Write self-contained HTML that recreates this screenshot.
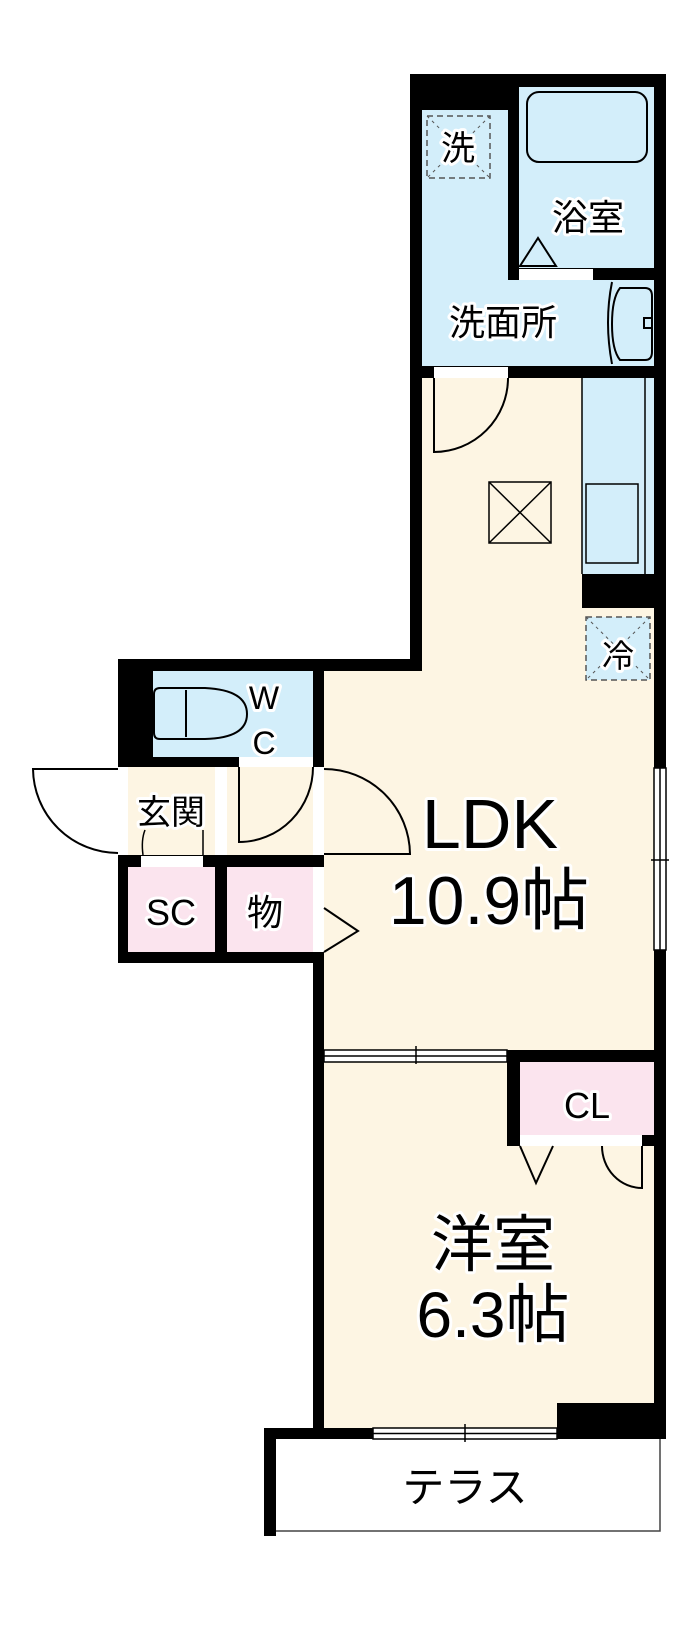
<!DOCTYPE html>
<html><head><meta charset="utf-8"><style>
html,body{margin:0;padding:0;background:#fff;}
svg{display:block;}
text{font-family:"Liberation Sans","Noto Sans CJK JP",sans-serif;fill:#000;text-anchor:middle;paint-order:stroke;stroke:#fff;stroke-width:6px;stroke-linejoin:round;}
</style></head><body>
<svg width="700" height="1625" viewBox="0 0 700 1625" xmlns="http://www.w3.org/2000/svg">
<!-- floors -->
<rect x="422" y="87" width="232" height="281" fill="#d3eefa"/>
<rect x="422" y="378" width="232" height="680" fill="#fdf5e3"/>
<rect x="313" y="660" width="120" height="400" fill="#fdf5e3"/>
<rect x="324" y="1062" width="330" height="366" fill="#fdf5e3"/>
<rect x="153" y="671" width="160" height="86" fill="#d3eefa"/>
<rect x="128" y="767" width="185" height="88" fill="#fdf5e3"/>
<rect x="128" y="867" width="87" height="85" fill="#fbe4ee"/>
<rect x="227" y="867" width="86" height="85" fill="#fbe4ee"/>
<rect x="520" y="1062" width="134" height="73" fill="#fbe4ee"/>
<rect x="582" y="378" width="72" height="196" fill="#d3eefa"/>
<rect x="586" y="617" width="64" height="63" fill="#d3eefa"/>

<!-- walls -->
<g fill="#000">
<rect x="410" y="74" width="256" height="13"/>
<rect x="410" y="74" width="98" height="36"/>
<rect x="410" y="74" width="12" height="597"/>
<rect x="508" y="74" width="11" height="206"/>
<rect x="508" y="268" width="158" height="12"/>
<rect x="654" y="74" width="12" height="694"/>
<rect x="654" y="950" width="12" height="489"/>
<rect x="410" y="366" width="256" height="12"/>
<rect x="582" y="574" width="84" height="34"/>
<rect x="118" y="659" width="304" height="12"/>
<rect x="118" y="659" width="35" height="108"/>
<rect x="313" y="659" width="11" height="108"/>
<rect x="153" y="757" width="86" height="10"/>
<rect x="118" y="855" width="206" height="12"/>
<rect x="118" y="855" width="10" height="108"/>
<rect x="215" y="855" width="12" height="108"/>
<rect x="118" y="952" width="206" height="11"/>
<rect x="313" y="952" width="11" height="476"/>
<rect x="507" y="1050" width="159" height="12"/>
<rect x="507" y="1050" width="13" height="96"/>
<rect x="642" y="1135" width="24" height="11"/>
<rect x="557" y="1403" width="109" height="36"/>
<rect x="264" y="1428" width="109" height="11"/>
<rect x="264" y="1428" width="12" height="108"/>
</g>

<!-- white openings -->
<g fill="#fff" stroke="#000" stroke-width="1">
<rect x="519" y="269" width="74" height="11" stroke="none"/>
<rect x="434" y="367" width="74" height="11" stroke="none"/>
<rect x="239" y="758" width="74" height="9" stroke="none"/>
<rect x="141" y="856" width="62" height="11" stroke="none"/>
<rect x="118" y="767" width="10" height="88" stroke="none"/>
<rect x="215" y="767" width="12" height="88" stroke="none"/>
<rect x="313" y="767" width="11" height="88" stroke="none"/>
<rect x="313" y="867" width="11" height="85" stroke="none"/>
<rect x="520" y="1135" width="122" height="11" stroke="none"/>
</g>

<!-- windows / sliding doors -->
<g fill="#fff" stroke="#000" stroke-width="1.5">
<rect x="654" y="768" width="12" height="182"/>
<line x1="660" y1="768" x2="660" y2="950"/>
<line x1="651" y1="860" x2="669" y2="860"/>
<rect x="324" y="1050" width="183" height="12"/>
<line x1="324" y1="1056" x2="507" y2="1056"/>
<line x1="416" y1="1046" x2="416" y2="1064"/>
<rect x="373" y="1428" width="184" height="11"/>
<line x1="373" y1="1433.5" x2="557" y2="1433.5"/>
<line x1="465" y1="1424" x2="465" y2="1442"/>
</g>

<!-- terrace -->
<g fill="none" stroke="#444" stroke-width="1.5">
<polyline points="276,1531 660,1531 660,1439"/>
</g>

<!-- fixtures -->
<g fill="none" stroke="#000" stroke-width="2">
<rect x="527" y="92" width="120" height="70" rx="12" fill="#d3eefa"/>
<polygon points="520,266 556,266 538,238"/>
<path d="M612,282 Q604,322 612,364"/>
<path d="M620,288 L645,288 Q652,288 652,296 L652,352 Q652,360 645,360 L620,360 Q612,350 612,324 Q612,298 620,288 Z"/>
<rect x="644" y="318" width="8" height="10"/>
<path d="M434,378 L434,452 A74,74 0 0 0 508,378"/>
<rect x="489" y="482" width="62" height="61" stroke-width="1.5"/>
<line x1="489" y1="482" x2="551" y2="543" stroke-width="1.5"/>
<line x1="551" y1="482" x2="489" y2="543" stroke-width="1.5"/>
<line x1="645" y1="378" x2="645" y2="574" stroke-width="1.5"/>
<line x1="582" y1="378" x2="582" y2="574" stroke-width="1.5"/>
<rect x="586" y="484" width="52" height="79" stroke-width="1.5"/>
<rect x="427" y="116" width="63" height="62" stroke="#555" stroke-dasharray="6,4" stroke-width="1.5"/>
<line x1="427" y1="116" x2="490" y2="178" stroke="#555" stroke-dasharray="3,4" stroke-width="1"/>
<line x1="490" y1="116" x2="427" y2="178" stroke="#555" stroke-dasharray="3,4" stroke-width="1"/>
<rect x="586" y="617" width="64" height="63" stroke="#555" stroke-dasharray="6,4" stroke-width="1.5"/>
<line x1="586" y1="617" x2="650" y2="680" stroke="#555" stroke-dasharray="3,4" stroke-width="1"/>
<line x1="650" y1="617" x2="586" y2="680" stroke="#555" stroke-dasharray="3,4" stroke-width="1"/>
<!-- toilet -->
<path d="M160,688 L205,688 Q247,690 247,714 Q247,738 205,739 L160,739 Q154,739 154,733 L154,694 Q154,688 160,688 Z"/>
<line x1="186" y1="690" x2="186" y2="737"/>
<!-- doors -->
<path d="M118,769 L33,769 A85,85 0 0 0 118,853"/>
<path d="M239,767 L239,842 A74,75 0 0 0 313,767"/>
<path d="M324,769 A86,86 0 0 1 410,854 L324,854"/>
<path d="M143,855 Q141,840 145,830" stroke-width="1.5"/>
<line x1="203" y1="855" x2="203" y2="830" stroke-width="1.5"/>
<polyline points="324,908 358,931 324,952"/>
<polyline points="520,1146 536,1183 553,1146"/>
<path d="M642,1146 L642,1188 A40,42 0 0 1 602,1146"/>
</g>

<!-- labels -->
<text x="458" y="160" font-size="34">洗</text>
<text x="588" y="230" font-size="36">浴室</text>
<text x="503" y="335" font-size="36">洗面所</text>
<text x="618" y="667" font-size="32">冷</text>
<text x="264" y="709" font-size="32">W</text>
<text x="264" y="754" font-size="32">C</text>
<text x="171" y="824" font-size="34">玄関</text>
<text x="171" y="925" font-size="36">SC</text>
<text x="265" y="925" font-size="36">物</text>
<text x="490" y="848" font-size="70">LDK</text>
<text x="489" y="924" font-size="68">10.9帖</text>
<text x="587" y="1118" font-size="36">CL</text>
<text x="493" y="1266" font-size="62">洋室</text>
<text x="493" y="1337" font-size="64">6.3帖</text>
<text x="465" y="1502" font-size="42">テラス</text>
</svg>
</body></html>
